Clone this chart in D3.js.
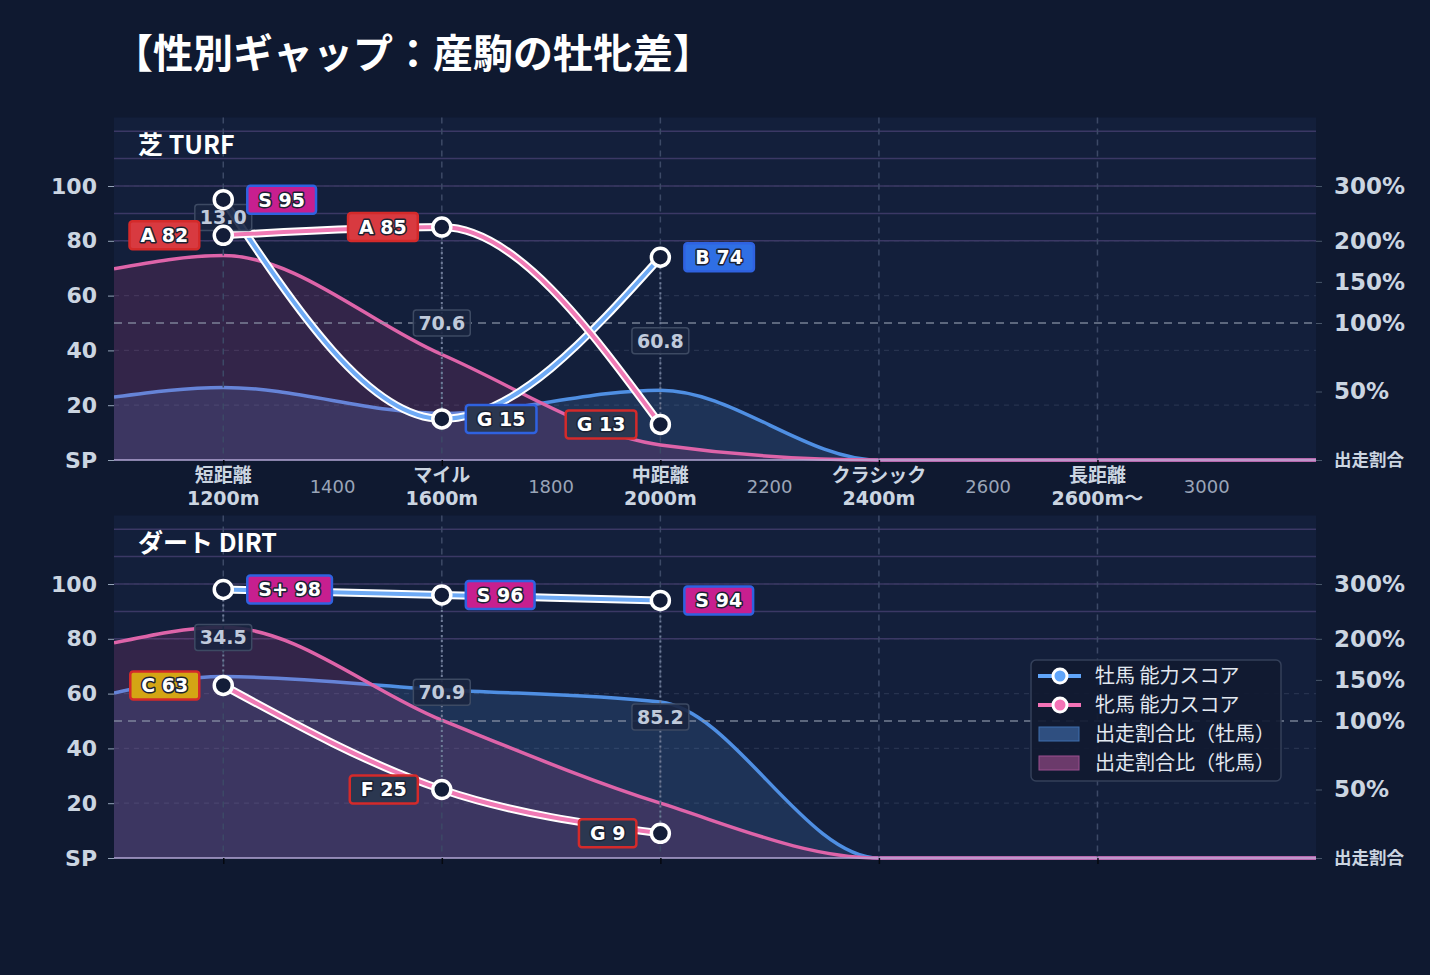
<!DOCTYPE html>
<html>
<head>
<meta charset="utf-8">
<script src="https://cdn.jsdelivr.net/npm/d3@7"></script>
<style>
  html, body { margin: 0; padding: 0; background: #0f1930; }
  svg { display: block; }
</style>
</head>
<body>
<div id="chart"></div>
<script>
// Distance categories
var categoryDist = [1200, 1600, 2000, 2400, 2800];
var categoryNames = ['短距離', 'マイル', '中距離', 'クラシック', '長距離'];
var categoryMeters = ['1200m', '1600m', '2000m', '2400m', '2600m〜'];
var minorTicks = [1400, 1800, 2200, 2600, 3000];

// Ability scores (牡馬 / 牝馬)
var scoreDist = [1200, 1600, 2000];
var turfMaleScore = [95, 15, 74];
var turfMaleGrade = ['S', 'G', 'B'];
var turfFemaleScore = [82, 85, 13];
var turfFemaleGrade = ['A', 'A', 'G'];
var turfGap = ['13.0', '70.6', '60.8'];
var dirtMaleScore = [98, 96, 94];
var dirtMaleGrade = ['S+', 'S', 'S'];
var dirtFemaleScore = [63, 25, 9];
var dirtFemaleGrade = ['C', 'F', 'G'];
var dirtGap = ['34.5', '70.9', '85.2'];

// Start share ratio (%)
var shareDist = [1000, 1200, 1600, 2000, 2400, 2800, 3200];
var turfMaleShare = [46, 53, 34, 51, 0, 0, 0];
var turfFemaleShare = [166, 182, 77, 11, 0, 0, 0];
var dirtMaleShare = [134, 154, 138, 123, 0, 0, 0];
var dirtFemaleShare = [195, 221, 101, 40, 0, 0, 0];

// Axis ticks
var scoreTicks = [0, 20, 40, 60, 80, 100];
var gradeLines = [80, 90, 100, 110, 120];
var shareTicks = [0, 50, 100, 150, 200, 300];
var legendLabels = ['牡馬 能力スコア', '牝馬 能力スコア', '出走割合比（牡馬）', '出走割合比（牝馬）'];

var LATIN = '"DejaVu Sans", "Noto Sans CJK JP", sans-serif';
var CJK = '"Noto Sans CJK JP", sans-serif';

var gradeFill = {
  'S+': '#c71f8f', 'S': '#c71f8f', 'A': '#d83a40', 'B': '#2f6fe4',
  'C': '#d4a514', 'F': '#2b3750', 'G': '#2b3750'
};
var maleBorder = '#2f62e0';
var femaleBorder = '#d42a2a';

var width = 1430;
var height = 975;
var left = 114;
var right = 1316;

var svg = d3.select('#chart').append('svg')
  .attr('width', width)
  .attr('height', height);

svg.append('rect')
  .attr('width', width)
  .attr('height', height)
  .attr('fill', '#0f1930');

svg.append('text')
  .attr('x', 113)
  .attr('y', 68)
  .attr('font-family', CJK)
  .attr('font-weight', 'bold')
  .attr('font-size', 40)
  .attr('fill', '#ffffff')
  .text('【性別ギャップ：産駒の牡牝差】');

var x = d3.scaleLinear().domain([1000, 3200]).range([left, right]);

// share % -> score units (piecewise, matches right axis)
var shareToScore = d3.scaleLinear()
  .domain([0, 100, 200, 300])
  .range([0, 50, 80, 100]);

function badge(parent, cx, cy, label, fill, border, side) {
  var b = parent.append('g');
  var rect = b.append('rect');
  var t = b.append('text')
    .attr('text-anchor', 'middle')
    .attr('dy', '0.36em')
    .attr('font-family', LATIN)
    .attr('font-weight', 'bold')
    .attr('font-size', 19)
    .attr('fill', '#ffffff')
    .attr('stroke', '#1b2233')
    .attr('stroke-width', 3)
    .attr('paint-order', 'stroke')
    .attr('stroke-linejoin', 'round')
    .text(label);
  var w = t.node().getComputedTextLength() + 22;
  var x0 = side === 'right' ? cx + 24 : cx - 24 - w;
  b.attr('transform', 'translate(' + x0 + ',' + cy + ')');
  rect.attr('x', 0).attr('y', -14)
    .attr('width', w).attr('height', 28)
    .attr('rx', 3)
    .attr('fill', fill)
    .attr('stroke', border)
    .attr('stroke-width', 2.5);
  t.attr('x', w / 2);
}

function gapLabel(parent, cx, cy, label) {
  var b = parent.append('g');
  var rect = b.append('rect');
  var t = b.append('text')
    .attr('text-anchor', 'middle')
    .attr('dy', '0.36em')
    .attr('font-family', LATIN)
    .attr('font-weight', 'bold')
    .attr('font-size', 19)
    .attr('fill', '#c0cadb')
    .text(label);
  var w = t.node().getComputedTextLength() + 10;
  b.attr('transform', 'translate(' + cx + ',' + cy + ')');
  rect.attr('x', -w / 2).attr('y', -13)
    .attr('width', w).attr('height', 26)
    .attr('rx', 3)
    .attr('fill', '#1a2540')
    .attr('fill-opacity', 0.9)
    .attr('stroke', '#3d4a63')
    .attr('stroke-width', 1.5);
}

function drawPanel(p, idx) {
  var y = d3.scaleLinear().domain([0, 125]).range([p.bottom, p.top]);
  var yShare = d3.scaleLinear()
    .domain(shareToScore.domain())
    .range(shareToScore.range().map(y));
  var g = svg.append('g');

  g.append('rect')
    .attr('x', left).attr('y', p.top)
    .attr('width', right - left).attr('height', p.bottom - p.top)
    .attr('fill', '#131f3b');

  var clipId = 'clip' + idx;
  g.append('clipPath').attr('id', clipId)
    .append('rect')
    .attr('x', left).attr('y', p.top)
    .attr('width', right - left).attr('height', p.bottom - p.top + 3);

  // Horizontal grid
  g.selectAll('.hgrid')
    .data(scoreTicks.filter(function (d) { return d > 0; }))
    .enter().append('line')
    .attr('x1', left).attr('x2', right)
    .attr('y1', y).attr('y2', y)
    .attr('stroke', '#27334f')
    .attr('stroke-width', 1.2)
    .attr('stroke-dasharray', '5,5');

  g.selectAll('.grade')
    .data(gradeLines)
    .enter().append('line')
    .attr('x1', left).attr('x2', right)
    .attr('y1', y).attr('y2', y)
    .attr('stroke', '#3b3865')
    .attr('stroke-width', 1.5);

  // Share areas
  var area = d3.area()
    .x(function (d, i) { return x(shareDist[i]); })
    .y0(p.bottom)
    .y1(function (d) { return yShare(d); })
    .curve(d3.curveMonotoneX);
  var areaLine = d3.line()
    .x(function (d, i) { return x(shareDist[i]); })
    .y(function (d) { return yShare(d); })
    .curve(d3.curveMonotoneX);

  var ga = g.append('g').attr('clip-path', 'url(#' + clipId + ')');
  ga.append('path').attr('d', area(p.maleShare))
    .attr('fill', 'rgba(96,165,250,0.15)');
  ga.append('path').attr('d', areaLine(p.maleShare))
    .attr('fill', 'none').attr('stroke', '#4f8fe3').attr('stroke-width', 3.5);
  ga.append('path').attr('d', area(p.femaleShare))
    .attr('fill', 'rgba(236,72,153,0.15)');
  ga.append('path').attr('d', areaLine(p.femaleShare))
    .attr('fill', 'none').attr('stroke', '#de64a9').attr('stroke-width', 3.5);

  // 100% reference line
  g.append('line')
    .attr('x1', left).attr('x2', right)
    .attr('y1', yShare(100)).attr('y2', yShare(100))
    .attr('stroke', '#8d97aa')
    .attr('stroke-opacity', 0.8)
    .attr('stroke-width', 1.5)
    .attr('stroke-dasharray', '8,6');

  // Vertical grid at categories
  g.selectAll('.vgrid')
    .data(categoryDist)
    .enter().append('line')
    .attr('x1', x).attr('x2', x)
    .attr('y1', p.top).attr('y2', p.bottom)
    .attr('stroke', '#3c4966')
    .attr('stroke-width', 1.5)
    .attr('stroke-dasharray', '6,5');

  // Gap connectors
  scoreDist.forEach(function (d, i) {
    g.append('line')
      .attr('x1', x(d)).attr('x2', x(d))
      .attr('y1', y(p.maleScore[i])).attr('y2', y(p.femaleScore[i]))
      .attr('stroke', '#6f7c98')
      .attr('stroke-width', 2)
      .attr('stroke-dasharray', '2,3');
  });

  // Baseline
  g.append('line')
    .attr('x1', left).attr('x2', right)
    .attr('y1', p.bottom).attr('y2', p.bottom)
    .attr('stroke', '#b3a7d6')
    .attr('stroke-width', 1.5);

  // Score lines
  var scoreLine = d3.line()
    .x(function (d, i) { return x(scoreDist[i]); })
    .y(function (d) { return y(d); })
    .curve(d3.curveMonotoneX);

  [[p.maleScore, '#6eaaf5'], [p.femaleScore, '#f07ab5']].forEach(function (s) {
    g.append('path').attr('d', scoreLine(s[0]))
      .attr('fill', 'none').attr('stroke', '#ffffff').attr('stroke-width', 8);
    g.append('path').attr('d', scoreLine(s[0]))
      .attr('fill', 'none').attr('stroke', s[1]).attr('stroke-width', 4);
  });

  // Gap labels
  scoreDist.forEach(function (d, i) {
    var mid = (p.maleScore[i] + p.femaleScore[i]) / 2;
    gapLabel(g, x(d), y(mid), p.gap[i]);
  });

  // Markers
  [p.maleScore, p.femaleScore].forEach(function (s) {
    g.selectAll(null)
      .data(s)
      .enter().append('circle')
      .attr('cx', function (d, i) { return x(scoreDist[i]); })
      .attr('cy', y)
      .attr('r', 9)
      .attr('fill', '#131d38')
      .attr('stroke', '#ffffff')
      .attr('stroke-width', 3.5);
  });

  // Grade badges
  scoreDist.forEach(function (d, i) {
    badge(g, x(d), y(p.maleScore[i]), p.maleGrade[i] + ' ' + p.maleScore[i],
      gradeFill[p.maleGrade[i]], maleBorder, 'right');
    badge(g, x(d), y(p.femaleScore[i]), p.femaleGrade[i] + ' ' + p.femaleScore[i],
      gradeFill[p.femaleGrade[i]], femaleBorder, 'left');
  });

  // Panel title
  g.append('text')
    .attr('x', 138)
    .attr('y', p.top + 36)
    .attr('font-family', CJK)
    .attr('font-weight', 'bold')
    .attr('font-size', 25)
    .attr('fill', '#ffffff')
    .text(p.title);

  // Left axis
  var yAxis = d3.axisLeft(y)
    .tickValues(scoreTicks)
    .tickSize(6)
    .tickPadding(11)
    .tickFormat(function (d) { return d === 0 ? 'SP' : d; });
  var ya = g.append('g')
    .attr('transform', 'translate(' + left + ',0)')
    .call(yAxis);
  ya.select('.domain').remove();
  ya.selectAll('line').attr('stroke', '#94a3b8');
  ya.selectAll('text')
    .attr('font-family', LATIN)
    .attr('font-weight', 'bold')
    .attr('font-size', 22)
    .attr('fill', '#cbd5e1');

  // Right axis (share)
  var yAxisR = d3.axisRight(yShare)
    .tickValues(shareTicks)
    .tickSize(6)
    .tickPadding(12)
    .tickFormat(function (d) { return d === 0 ? '出走割合' : d + '%'; });
  var yr = g.append('g')
    .attr('transform', 'translate(' + right + ',0)')
    .call(yAxisR);
  yr.select('.domain').remove();
  yr.selectAll('line').attr('stroke', '#475569');
  yr.selectAll('text')
    .attr('font-family', LATIN)
    .attr('font-weight', 'bold')
    .attr('font-size', function (d) { return d === 0 ? 17.5 : 23; })
    .attr('fill', '#cbd5e1');

  // Bottom axis ticks
  var xAxis = d3.axisBottom(x)
    .tickValues(categoryDist)
    .tickSize(6)
    .tickFormat('');
  var xa = g.append('g')
    .attr('transform', 'translate(0,' + p.bottom + ')')
    .call(xAxis);
  xa.select('.domain').remove();
  xa.selectAll('line').attr('stroke', '#05080f').attr('stroke-width', 1.5);

  if (p.showLabels) {
    g.selectAll('.catName')
      .data(categoryDist)
      .enter().append('text')
      .attr('x', x)
      .attr('y', p.bottom + 22)
      .attr('text-anchor', 'middle')
      .attr('font-family', CJK)
      .attr('font-weight', 'bold')
      .attr('font-size', 19)
      .attr('fill', '#cbd5e1')
      .text(function (d, i) { return categoryNames[i]; });
    g.selectAll('.catMeter')
      .data(categoryDist)
      .enter().append('text')
      .attr('x', x)
      .attr('y', p.bottom + 45)
      .attr('text-anchor', 'middle')
      .attr('font-family', LATIN)
      .attr('font-weight', 'bold')
      .attr('font-size', 19)
      .attr('fill', '#cbd5e1')
      .text(function (d, i) { return categoryMeters[i]; });
    g.selectAll('.minor')
      .data(minorTicks)
      .enter().append('text')
      .attr('x', x)
      .attr('y', p.bottom + 33)
      .attr('text-anchor', 'middle')
      .attr('font-family', LATIN)
      .attr('font-size', 18)
      .attr('fill', '#9aa5b8')
      .text(function (d) { return d; });
  }

  if (p.showLegend) {
    var lg = g.append('g').attr('transform', 'translate(1031,660)');
    lg.append('rect')
      .attr('width', 250).attr('height', 121)
      .attr('rx', 5)
      .attr('fill', '#111a31')
      .attr('fill-opacity', 0.92)
      .attr('stroke', '#34405a')
      .attr('stroke-width', 1.5);
    var lineColors = ['#60a5fa', '#f472b6'];
    var swatch = [['#2f4f80', '#3f6fae'], ['#6b3a6b', '#9b4f8f']];
    legendLabels.forEach(function (label, i) {
      var cy = 16 + i * 29;
      if (i < 2) {
        lg.append('line')
          .attr('x1', 7).attr('x2', 50)
          .attr('y1', cy).attr('y2', cy)
          .attr('stroke', lineColors[i]).attr('stroke-width', 4);
        lg.append('circle')
          .attr('cx', 29).attr('cy', cy).attr('r', 7)
          .attr('fill', lineColors[i])
          .attr('stroke', '#ffffff').attr('stroke-width', 3);
      } else {
        lg.append('rect')
          .attr('x', 8).attr('y', cy - 7)
          .attr('width', 40).attr('height', 14)
          .attr('fill', swatch[i - 2][0])
          .attr('stroke', swatch[i - 2][1])
          .attr('stroke-width', 1);
      }
      lg.append('text')
        .attr('x', 64).attr('y', cy)
        .attr('dy', '0.36em')
        .attr('font-family', CJK)
        .attr('font-size', 20)
        .attr('fill', '#e2e8f0')
        .text(label);
    });
  }
}

drawPanel({
  title: '芝 TURF', top: 117.5, bottom: 460,
  maleScore: turfMaleScore, maleGrade: turfMaleGrade,
  femaleScore: turfFemaleScore, femaleGrade: turfFemaleGrade,
  gap: turfGap, maleShare: turfMaleShare, femaleShare: turfFemaleShare,
  showLabels: true, showLegend: false
}, 0);

drawPanel({
  title: 'ダート DIRT', top: 515.5, bottom: 858,
  maleScore: dirtMaleScore, maleGrade: dirtMaleGrade,
  femaleScore: dirtFemaleScore, femaleGrade: dirtFemaleGrade,
  gap: dirtGap, maleShare: dirtMaleShare, femaleShare: dirtFemaleShare,
  showLabels: false, showLegend: true
}, 1);
</script>
</body>
</html>
